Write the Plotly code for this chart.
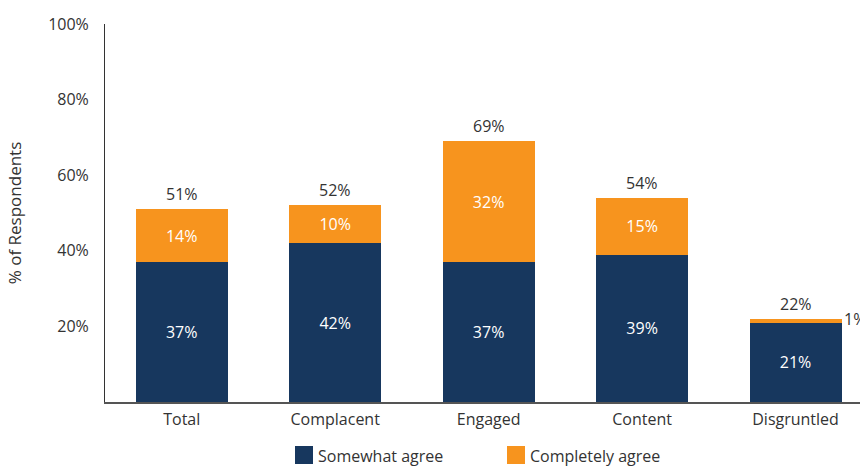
import plotly.graph_objects as go

categories = ["Total", "Complacent", "Engaged", "Content", "Disgruntled"]
somewhat_agree = [37, 42, 37, 39, 21]
completely_agree = [14, 10, 32, 15, 1]
totals = [51, 52, 69, 54, 22]
y_ticks = [20, 40, 60, 80, 100]

navy = "#17375E"
orange = "#F7941E"
text_dark = "#333333"
font_family = "Open Sans, sans-serif"
fs = 16

x_idx = list(range(len(categories)))

fig = go.Figure()

fig.add_trace(go.Bar(
    x=x_idx, y=somewhat_agree, name="Somewhat agree",
    marker=dict(color=navy, line=dict(width=0)), width=0.6,
    text=[f"{v}%" for v in somewhat_agree], textposition="inside",
    insidetextanchor="middle", textangle=0,
    textfont=dict(color="white", size=fs, family=font_family),
    showlegend=False,
))

# The thin Disgruntled segment gets its label beside the bar instead
inside_completely = [f"{v}%" if v >= 5 else "" for v in completely_agree]
fig.add_trace(go.Bar(
    x=x_idx, y=completely_agree, name="Completely agree",
    marker=dict(color=orange, line=dict(width=0)), width=0.6,
    text=inside_completely, textposition="inside",
    insidetextanchor="middle", textangle=0,
    textfont=dict(color="white", size=fs, family=font_family),
    showlegend=False,
))

# Stack totals above each bar
for i, v in enumerate(totals):
    fig.add_annotation(
        x=i, y=v, xref="x", yref="y", text=f"{v}%", showarrow=False,
        xanchor="center", yanchor="bottom", yshift=2,
        font=dict(color=text_dark, size=fs, family=font_family),
    )

for i, v in enumerate(completely_agree):
    if v < 5:
        fig.add_annotation(
            x=i + 0.3, y=somewhat_agree[i] + v, xref="x", yref="y",
            text=f"{v}%", showarrow=False, xanchor="left", yanchor="middle",
            xshift=0, font=dict(color=text_dark, size=fs, family=font_family),
        )

# Legend drawn as squares with labels below the plot
legend_items = [("Somewhat agree", navy, 295), ("Completely agree", orange, 507)]
for label, color, px in legend_items:
    x0 = (px - 105) / 755
    x1 = (px + 18 - 105) / 755
    fig.add_shape(type="rect", xref="paper", yref="paper",
                  x0=x0, x1=x1, y0=-(464 - 402) / 378, y1=-(446 - 402) / 378,
                  fillcolor=color, line=dict(width=0))
    fig.add_annotation(xref="paper", yref="paper", x=(px + 21 - 105) / 755,
                       y=-(456 - 402) / 378, text=label, showarrow=False,
                       xanchor="left", yanchor="middle",
                       font=dict(color=text_dark, size=fs, family=font_family))

fig.update_layout(
    barmode="stack",
    width=860, height=468,
    margin=dict(l=105, r=0, t=24, b=66),
    paper_bgcolor="white", plot_bgcolor="white",
    font=dict(family=font_family, color=text_dark, size=fs),
    xaxis=dict(
        tickmode="array", tickvals=x_idx, ticktext=categories,
        range=[-0.5, 4.42], showgrid=False, zeroline=False,
        showline=True, linecolor="#555555", linewidth=1.5, ticks="",
        tickfont=dict(size=fs, color=text_dark), ticklabelstandoff=2,
    ),
    yaxis=dict(
        range=[0, 100], tickvals=y_ticks, ticktext=[f"{v}%" for v in y_ticks],
        showgrid=False, zeroline=False, showline=True, linecolor="#333333",
        linewidth=1, ticks="", ticklabelstandoff=12,
        tickfont=dict(size=fs, color=text_dark),
        title=dict(text="% of Respondents", font=dict(size=17, color=text_dark),
                   standoff=22),
    ),
)

fig.write_html("out.html")
